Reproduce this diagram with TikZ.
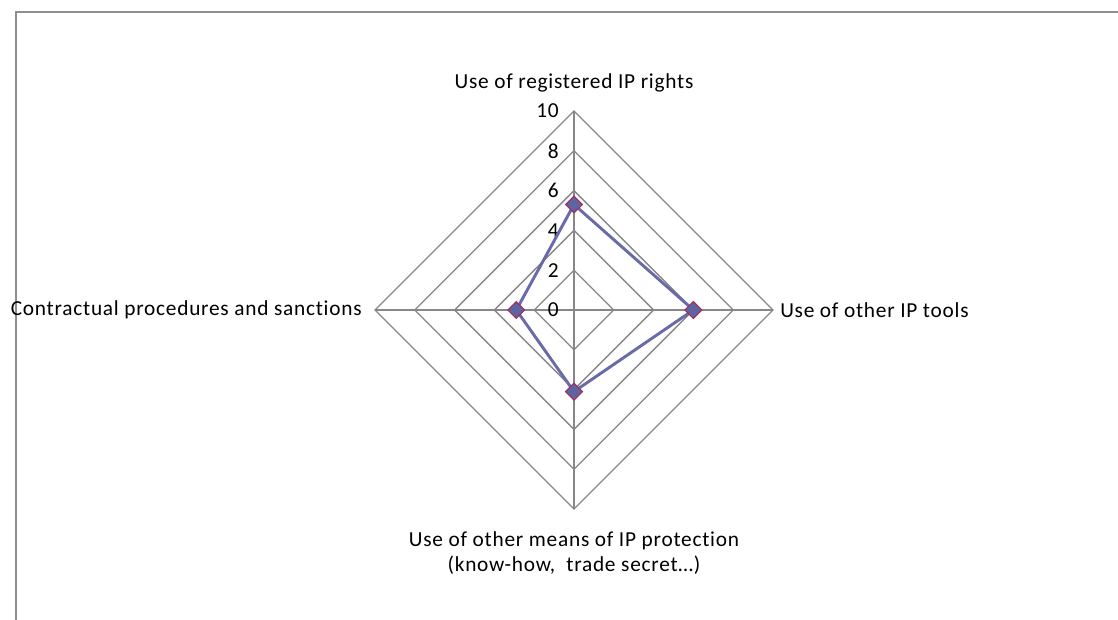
\documentclass[tikz,border=0pt]{standalone}
\usepackage{fontspec}
\setmainfont{Carlito}[LetterSpace=3.5, Ligatures=NoCommon]
\usetikzlibrary{shapes.geometric}
\definecolor{rejilla}{HTML}{878787}
\definecolor{serie}{HTML}{6A6AA8}
\definecolor{marcador}{HTML}{5F63A0}
\definecolor{borde}{HTML}{A02C5C}
\definecolor{marco}{HTML}{8E8E8E}

\begin{document}
\begin{tikzpicture}[x=0.75pt, y=0.75pt, % 1 unidad = 1 px
    eje/.style={draw=rejilla, line width=1pt},
    etiqueta/.style={font=\fontsize{16}{18.75}\selectfont, inner sep=0pt},
    punto/.style={diamond, draw=borde, fill=marcador, line width=0.8pt,
        minimum size=13pt, inner sep=0pt}]
    \useasboundingbox (-574,-309) rectangle (544,310);
    \draw[marco, line width=1.5pt] (545,298) -- (-558,298) -- (-558,-310); % Marco
    % Anillos cada 2 unidades (19.9 px por unidad)
    \foreach \v in {2,4,...,10}
        \draw[eje] (0,\v*19.9) -- (\v*19.9,0) -- (0,-\v*19.9) -- (-\v*19.9,0) -- cycle;
    \draw[eje] (0,199) -- (0,-199); % Ejes
    \draw[eje] (-199,0) -- (199,0);
    \foreach \v in {0,2,...,10}
        \node[etiqueta, anchor=east] (n\v) at (-15,\v*19.9) {\v};
    % Categorias
    \node[etiqueta, anchor=south] (reg) at (0,218) {Use of registered IP rights};
    \node[etiqueta, anchor=west] (otr) at (206,0) {Use of other IP tools};
    \node[etiqueta, anchor=north, align=center] (med) at (0,-221)
        {Use of other means of IP protection\\(know-how,\ \ trade secret\dots)};
    \node[etiqueta, anchor=east] (con) at (-212,0) {Contractual procedures and sanctions};
    % Valores de la serie
    \coordinate (v1) at (0,5.3*19.9);
    \coordinate (v2) at (6*19.9,0);
    \coordinate (v3) at (0,-4.1*19.9);
    \coordinate (v4) at (-2.9*19.9,0);
    \draw[serie, line width=2.2pt, line join=round] (v1) -- (v2) -- (v3) -- (v4) -- cycle;
    \foreach \i in {1,...,4}
        \node[punto] (m\i) at (v\i) {};
\end{tikzpicture}
\end{document}
